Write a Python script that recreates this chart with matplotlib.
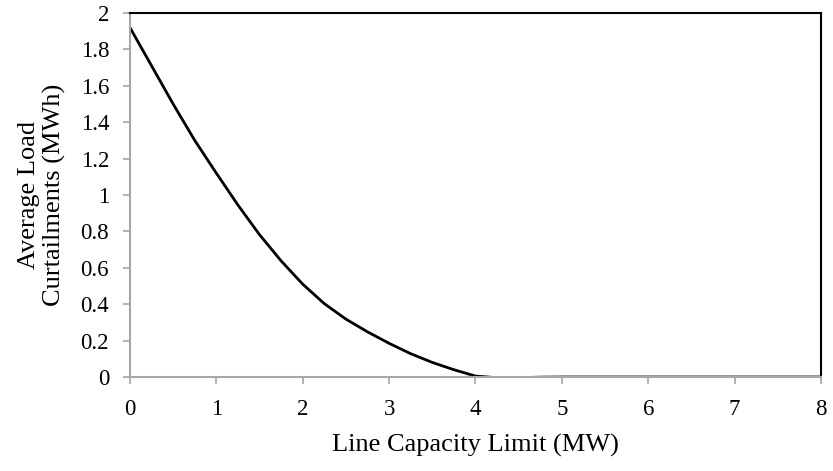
import matplotlib.pyplot as plt

plt.rcParams['font.family'] = ['Liberation Serif', 'DejaVu Serif']

# values
capacity = [0, 0.25, 0.5, 0.75, 1.0, 1.25, 1.5, 1.75, 2.0, 2.25, 2.5, 2.75,
            3.0, 3.25, 3.5, 3.75, 4.0, 4.25, 4.5, 4.75, 5, 6, 7, 8]
curtail = [1.92, 1.71, 1.50, 1.30, 1.12, 0.945, 0.782, 0.638, 0.510, 0.403, 0.318, 0.248,
           0.185, 0.128, 0.080, 0.040, 0.005, -0.004, -0.004, -0.001, 0.0, 0.0, 0.0, 0.0]
xticks = [0, 1, 2, 3, 4, 5, 6, 7, 8]
yticks = [0, 0.2, 0.4, 0.6, 0.8, 1, 1.2, 1.4, 1.6, 1.8, 2]

fig = plt.figure(figsize=(8.33, 4.71), dpi=100)
ax = fig.add_axes([0.156, 0.1996, 0.8296, 0.7728])
ax.plot(capacity, curtail, color='black', lw=2, solid_joinstyle='round')

ax.set_xlim(0, 8)
ax.set_ylim(0, 2)
ax.set_xticks(xticks)
ax.set_xticklabels([str(t) for t in xticks])
ax.set_yticks(yticks)
ax.set_yticklabels(['0', '0.2', '0.4', '0.6', '0.8', '1', '1.2', '1.4', '1.6', '1.8', '2'])

gray = '#a6a6a6'
ax.spines['left'].set_color(gray)
ax.spines['bottom'].set_color(gray)
ax.spines['left'].set_linewidth(1.5)
ax.spines['bottom'].set_linewidth(1.5)
ax.spines['top'].set_color('black')
ax.spines['right'].set_color('black')
ax.spines['top'].set_linewidth(1.5)
ax.spines['right'].set_linewidth(1.5)
ax.tick_params(axis='both', colors=gray, labelcolor='black', length=5, width=1.2,
               labelsize=16.5)
ax.tick_params(axis='x', pad=11)
ax.tick_params(axis='y', pad=10)

ax.set_xlabel('Line Capacity Limit (MW)', fontsize=19)
ax.set_ylabel('Average Load\nCurtailments (MWh)', fontsize=19, linespacing=1.2)
ax.xaxis.set_label_coords(0.5, -0.155)
ax.yaxis.set_label_coords(-0.092, 0.5)

fig.savefig('out.png', dpi=100)
